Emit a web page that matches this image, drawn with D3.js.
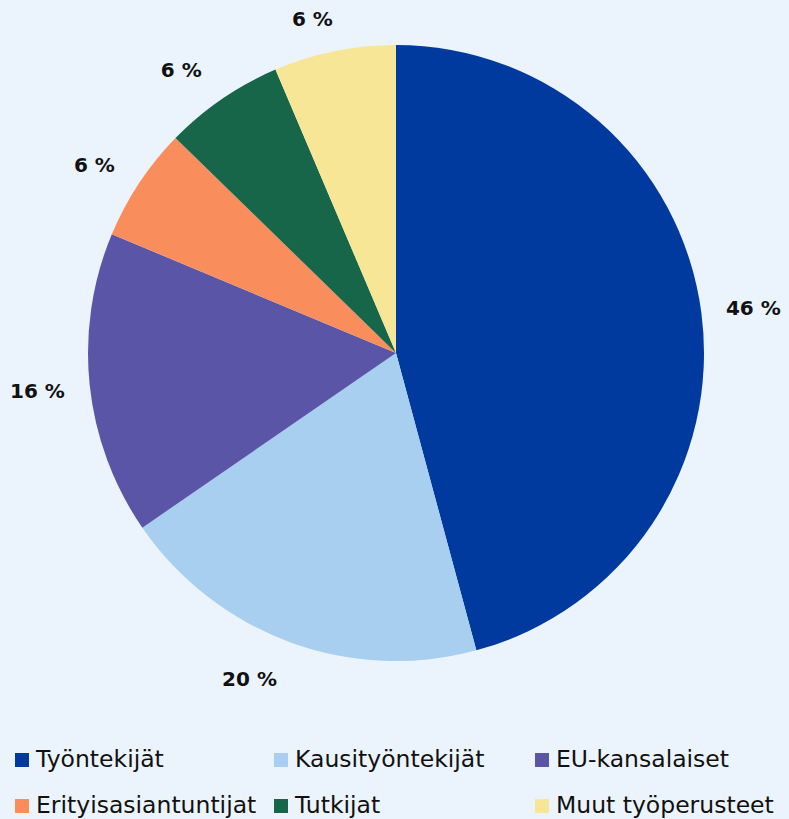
<!DOCTYPE html>
<html>
<head>
<meta charset="utf-8">
<script src="https://cdn.jsdelivr.net/npm/d3@7"></script>
<style>
  html, body { margin: 0; padding: 0; background: #EBF4FC; }
  svg { display: block; }
</style>
</head>
<body>
<svg id="chart" width="789" height="819"></svg>
<script>
const categories = ["Työntekijät", "Kausityöntekijät", "EU-kansalaiset", "Erityisasiantuntijat", "Tutkijat", "Muut työperusteet"];
const values = [45.8, 19.6, 15.9, 6.0, 6.3, 6.4];
const colors = ["#003A9E", "#A8CFEF", "#5B55A8", "#F98D5C", "#17664A", "#F7E696"];

const W = 789, H = 819;
const cx = 396, cy = 353, R = 308, gap = 20;
// label nudges (layout only)
const labelNudge = [[5, 0], [-24, 7], [-5, 3], [-11, 0], [-18, -2], [-14, -1]];

const svg = d3.select("#chart");
svg.append("rect").attr("width", W).attr("height", H).attr("fill", "#EBF4FC");

const data = categories.map((c, i) => ({ cat: c, value: values[i], color: colors[i] }));
const pie = d3.pie().value(d => d.value).sort(null);
const arcs = pie(data);
const arc = d3.arc().innerRadius(0).outerRadius(R);

const g = svg.append("g").attr("transform", `translate(${cx},${cy})`);
g.selectAll("path").data(arcs).join("path")
  .attr("d", arc)
  .attr("fill", d => d.data.color);

const labels = g.selectAll("text.lbl").data(arcs).join("text")
  .attr("class", "lbl")
  .attr("text-anchor", "middle")
  .attr("dominant-baseline", "central")
  .attr("font-family", "'DejaVu Sans', sans-serif")
  .attr("font-weight", "bold")
  .attr("font-size", 20)
  .attr("fill", "#111")
  .text(d => Math.round(d.data.value) + " %");

labels.each(function(d, i) {
  const bb = this.getBBox();
  const hw = bb.width / 2, hh = bb.height / 2;
  const a = (d.startAngle + d.endAngle) / 2;
  const dx = Math.sin(a), dy = -Math.cos(a);
  const x = dx * (R + gap) + dx * hw + labelNudge[i][0];
  const y = dy * (R + gap) + dy * hh + labelNudge[i][1];
  d3.select(this).attr("transform", `translate(${x},${y})`);
});

// Legend layout (positions only)
const legendCols = [15, 274, 535];
const legendRows = [760, 806];
const lg = svg.append("g");
const items = lg.selectAll("g").data(data).join("g")
  .attr("transform", (d, i) => `translate(${legendCols[i % 3]},${legendRows[Math.floor(i / 3)]})`);
items.append("rect")
  .attr("x", 0).attr("y", -7).attr("width", 14).attr("height", 14)
  .attr("fill", d => d.color);
items.append("text")
  .attr("x", 21).attr("y", 7)
  .attr("font-family", "'DejaVu Sans', sans-serif")
  .attr("font-size", 23.5)
  .attr("fill", "#111")
  .text(d => d.cat);
</script>
</body>
</html>
